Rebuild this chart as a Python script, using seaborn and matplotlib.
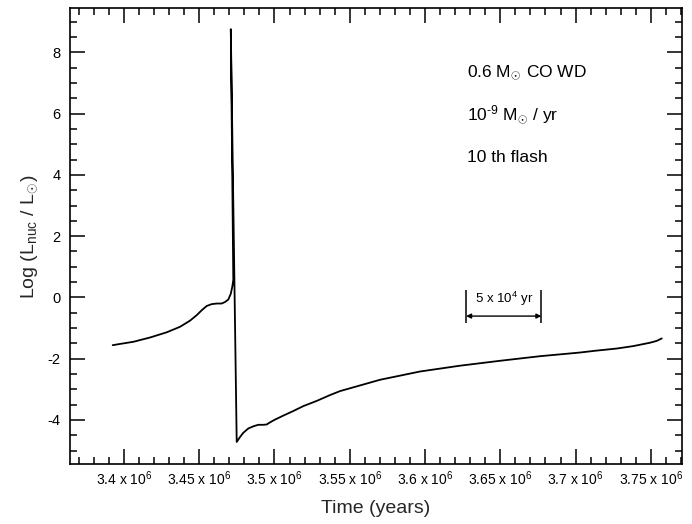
import matplotlib
matplotlib.use("Agg")
import matplotlib.pyplot as plt
import seaborn as sns
import pandas as pd
from matplotlib.ticker import FixedLocator, FixedFormatter, MultipleLocator

# Nuclear luminosity through the 10th hydrogen flash (time in years)
time_yr = [3.39256e6, 3.39741e6, 3.40625e6, 3.41734e6, 3.42843e6, 3.43727e6,
           3.44391e6, 3.44836e6, 3.45168e6, 3.45500e6, 3.45832e6, 3.46165e6,
           3.46497e6, 3.46716e6, 3.46935e6, 3.47094e6, 3.47201e6, 3.47267e6,
           3.47101e6,
           3.47493e6, 3.47712e6, 3.47931e6, 3.48264e6, 3.48596e6, 3.48928e6,
           3.49260e6, 3.49486e6, 3.49705e6, 3.50037e6, 3.50588e6, 3.51252e6,
           3.51917e6, 3.52807e6, 3.53690e6, 3.54354e6, 3.57011e6, 3.59668e6,
           3.62325e6, 3.64982e6, 3.67639e6, 3.70296e6, 3.71347e6, 3.72734e6,
           3.73836e6, 3.74946e6, 3.75390e6, 3.75723e6]
log_lnuc = [-1.56, -1.52, -1.45, -1.31, -1.14, -0.96,
            -0.76, -0.58, -0.42, -0.28, -0.22, -0.20,
            -0.20, -0.15, -0.07, 0.11, 0.35, 0.57,
            8.76,
            -4.72, -4.56, -4.42, -4.28, -4.21, -4.16,
            -4.16, -4.15, -4.08, -3.99, -3.86, -3.71,
            -3.55, -3.38, -3.19, -3.06, -2.69, -2.42,
            -2.23, -2.07, -1.92, -1.80, -1.74, -1.67,
            -1.59, -1.48, -1.42, -1.34]

x_ticks = [3.40e6, 3.45e6, 3.50e6, 3.55e6, 3.60e6, 3.65e6, 3.70e6, 3.75e6]
x_tick_labels = ["3.4 x 10$^6$", "3.45 x 10$^6$", "3.5 x 10$^6$", "3.55 x 10$^6$",
                 "3.6 x 10$^6$", "3.65 x 10$^6$", "3.7 x 10$^6$", "3.75 x 10$^6$"]
y_ticks = [-4, -2, 0, 2, 4, 6, 8]
y_tick_labels = ["-4", "-2", "0", "2", "4", "6", "8"]

# Time-scale bar: 5 x 10^4 yr
bar_start, bar_end = 3.6273e6, 3.6773e6
bar_low, bar_high, bar_arrow, bar_text = -0.84, 0.24, -0.61, -0.06

SUN = "$_{\\!\\odot\\!}$"
info_lines = ["0.6 M" + SUN + " CO WD", "10$^{\u20109}$ M" + SUN + " / yr", "10 th flash"]

sns.set_theme(style="ticks")
plt.rcParams.update({
    "font.family": ["Liberation Sans", "DejaVu Sans"],
    "mathtext.fontset": "custom",
    "mathtext.rm": "Liberation Sans",
    "mathtext.it": "Liberation Sans:italic",
    "mathtext.bf": "Liberation Sans:bold",
    "axes.linewidth": 1.2,
    "axes.edgecolor": "black",
    "text.color": "black",
    "xtick.color": "black",
    "ytick.color": "black",
})

fig = plt.figure(figsize=(6.92, 5.24), dpi=100)
ax = fig.add_axes([70 / 692, 1 - 464.3 / 524, 612 / 692, 456.6 / 524])

df = pd.DataFrame({"t": time_yr, "L": log_lnuc})
sns.lineplot(data=df, x="t", y="L", sort=False, estimator=None, color="black",
             lw=1.3, ax=ax)

ax.set_xlim(3.3642e6, 3.7707e6)
ax.set_ylim(-5.45, 9.46)

ax.xaxis.set_major_locator(FixedLocator(x_ticks))
ax.xaxis.set_major_formatter(FixedFormatter(x_tick_labels))
ax.xaxis.set_minor_locator(MultipleLocator(1e4))
ax.yaxis.set_major_locator(FixedLocator(y_ticks))
ax.yaxis.set_major_formatter(FixedFormatter(y_tick_labels))
ax.yaxis.set_minor_locator(MultipleLocator(0.5))

ax.tick_params(which="both", direction="in", top=True, right=True, width=1.1)
ax.tick_params(which="major", length=10.5)
ax.tick_params(which="minor", length=5)
ax.tick_params(axis="x", which="major", labelsize=10, pad=4)
ax.tick_params(axis="y", which="major", labelsize=10.5, pad=7)

ax.set_xlabel("Time (years)", fontsize=14)
ax.set_ylabel("Log (L$_{\\rm nuc}$ / L" + SUN + ")", fontsize=14)
ax.xaxis.set_label_coords(0.5, -0.078)
ax.yaxis.set_label_coords(-0.049, 0.498)

for i, line in enumerate(info_lines):
    ax.text(0.6487, 0.857 - i * 0.092, line, transform=ax.transAxes,
            fontsize=12.5, va="center", ha="left")

ax.vlines([bar_start, bar_end], bar_low, bar_high, color="black", lw=1.1)
ax.annotate("", xy=(bar_end, bar_arrow), xytext=(bar_start, bar_arrow),
            arrowprops=dict(arrowstyle="<|-|>", color="black", lw=1.0,
                            mutation_scale=7, shrinkA=0, shrinkB=0))
ax.text((bar_start + bar_end) / 2, bar_text, "5 x 10$^4$ yr", fontsize=9.5,
        ha="center", va="center")

fig.savefig("out.png", dpi=100)
